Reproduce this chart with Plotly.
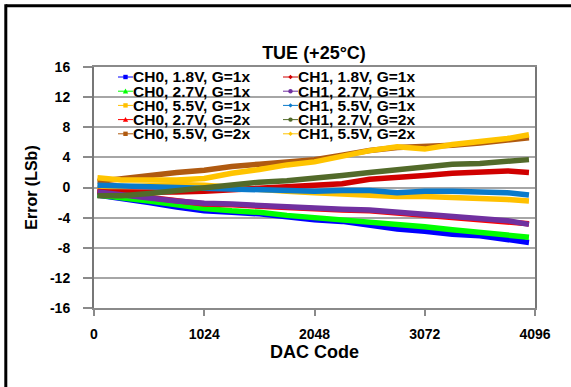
import plotly.graph_objects as go

# ---- data ----
codes = [32, 256, 512, 768, 1024, 1280, 1536, 1792, 2048, 2304, 2560, 2816, 3072, 3328, 3584, 3840, 4040]

ch0_18_g1 = [-1.0, -1.4, -2.0, -2.6, -3.1, -3.3, -3.5, -3.9, -4.3, -4.5, -5.0, -5.5, -5.8, -6.2, -6.4, -6.9, -7.3]
ch0_27_g1 = [-1.0, -1.3, -1.8, -2.3, -2.8, -3.1, -3.3, -3.7, -4.0, -4.3, -4.5, -4.9, -5.2, -5.6, -5.9, -6.2, -6.6]
ch0_55_g1 = [-0.1, 0.1, 0.3, 0.4, 0.3, 0.0, -0.3, -0.5, -0.7, -0.9, -1.1, -1.2, -1.2, -1.3, -1.5, -1.6, -1.8]
ch0_27_g2 = [-0.5, -0.9, -1.4, -1.9, -2.2, -2.3, -2.5, -2.7, -2.9, -3.0, -3.1, -3.4, -3.6, -3.9, -4.2, -4.5, -4.8]
ch0_55_g2 = [0.8, 1.2, 1.6, 2.0, 2.3, 2.8, 3.1, 3.4, 3.7, 4.3, 4.9, 5.3, 5.4, 5.6, 5.9, 6.3, 6.6]
ch1_18_g1 = [-0.6, -0.6, -0.7, -0.6, -0.5, -0.3, -0.1, 0.2, 0.3, 0.5, 1.1, 1.3, 1.6, 1.9, 2.0, 2.2, 2.0]
ch1_27_g1 = [-0.6, -0.9, -1.4, -1.8, -2.1, -2.2, -2.4, -2.6, -2.8, -2.9, -3.0, -3.3, -3.5, -3.8, -4.1, -4.4, -4.9]
ch1_55_g1 = [0.3, 0.2, 0.0, -0.1, -0.2, -0.3, -0.4, -0.4, -0.5, -0.4, -0.4, -0.7, -0.5, -0.5, -0.6, -0.7, -1.0]
ch1_27_g2 = [-1.1, -1.1, -0.8, -0.4, 0.0, 0.4, 0.7, 0.9, 1.2, 1.6, 2.0, 2.4, 2.8, 3.1, 3.2, 3.4, 3.7]
ch1_55_g2 = [1.3, 1.0, 1.0, 1.0, 1.2, 1.9, 2.4, 3.0, 3.4, 4.2, 4.9, 5.4, 5.1, 5.7, 6.1, 6.5, 7.0]

names = ["CH0, 1.8V, G=1x", "CH0, 2.7V, G=1x", "CH0, 5.5V, G=1x", "CH0, 2.7V, G=2x", "CH0, 5.5V, G=2x",
         "CH1, 1.8V, G=1x", "CH1, 2.7V, G=1x", "CH1, 5.5V, G=1x", "CH1, 2.7V, G=2x", "CH1, 5.5V, G=2x"]
series = [ch0_18_g1, ch0_27_g1, ch0_55_g1, ch0_27_g2, ch0_55_g2,
          ch1_18_g1, ch1_27_g1, ch1_55_g1, ch1_27_g2, ch1_55_g2]
colors = ["#0000FF", "#00FF00", "#FFC000", "#FF0000", "#B05A10",
          "#D00000", "#7030A0", "#0A7ACB", "#526A2A", "#FFC400"]
symbols = ["square", "triangle", "square", "triangle", "square",
           "diamond", "circle", "diamond", "circle", "diamond"]

x_ticks = [0, 1024, 2048, 3072, 4096]
y_ticks = [16, 12, 8, 4, 0, -4, -8, -12, -16]

# ---- layout geometry (pixels) ----
W, H = 571, 387
L, R, T, B = 94, 535, 67, 308


def px(x):
    return (x - L) / (R - L)


def py(y):
    return (B - y) / (B - T)


FONT = "Arial, 'Liberation Sans', sans-serif"

fig = go.Figure()
for name, vals, col in zip(names, series, colors):
    fig.add_trace(go.Scatter(x=codes, y=vals, mode="lines", name=name,
                             line=dict(color=col, width=5.5), showlegend=False))

shapes = []
annotations = []

# legend background
shapes.append(dict(type="rect", xref="paper", yref="paper",
                   x0=px(L + 1), x1=px(432), y0=py(T + 1), y1=py(143),
                   fillcolor="white", line=dict(width=0), layer="between"))

# legend entries
for i, (name, col, sym) in enumerate(zip(names, colors, symbols)):
    colm, row = divmod(i, 5)
    x0 = 118 + colm * 165
    yc = 77 + row * 14.2
    shapes.append(dict(type="line", xref="paper", yref="paper",
                       x0=px(x0), x1=px(x0 + 15), y0=py(yc), y1=py(yc),
                       line=dict(color=col, width=1), layer="above"))
    cx = x0 + 7.5
    s = 2.2
    if sym == "square":
        shapes.append(dict(type="rect", xref="paper", yref="paper",
                           x0=px(cx - s), x1=px(cx + s), y0=py(yc - s), y1=py(yc + s),
                           fillcolor=col, line=dict(width=0), layer="above"))
    elif sym == "circle":
        shapes.append(dict(type="circle", xref="paper", yref="paper",
                           x0=px(cx - s), x1=px(cx + s), y0=py(yc - s), y1=py(yc + s),
                           fillcolor=col, line=dict(width=0), layer="above"))
    elif sym == "triangle":
        path = "M {a},{b} L {c},{d} L {e},{f} Z".format(
            a=px(cx - s - 0.5), b=py(yc + s), c=px(cx + s + 0.5), d=py(yc + s),
            e=px(cx), f=py(yc - s - 0.5))
        shapes.append(dict(type="path", xref="paper", yref="paper", path=path,
                           fillcolor=col, line=dict(width=0), layer="above"))
    else:
        path = "M {a},{b} L {c},{d} L {e},{f} L {g},{h} Z".format(
            a=px(cx - s), b=py(yc), c=px(cx), d=py(yc - s),
            e=px(cx + s), f=py(yc), g=px(cx), h=py(yc + s))
        shapes.append(dict(type="path", xref="paper", yref="paper", path=path,
                           fillcolor=col, line=dict(width=0), layer="above"))
    annotations.append(dict(text=name, xref="paper", yref="paper",
                            x=px(x0 + 14), y=py(yc), xanchor="left", yanchor="middle",
                            showarrow=False, borderpad=0,
                            font=dict(family=FONT, size=15.5, color="black", weight="bold")))

# outer frame (top and left edges visible)
shapes.append(dict(type="line", xref="paper", yref="paper",
                   x0=px(5.8), x1=px(W + 5), y0=py(5.8), y1=py(5.8),
                   line=dict(color="black", width=3), layer="above"))
shapes.append(dict(type="line", xref="paper", yref="paper",
                   x0=px(5.8), x1=px(5.8), y0=py(4.3), y1=py(H + 5),
                   line=dict(color="black", width=3), layer="above"))

fig.update_layout(
    width=W, height=H,
    margin=dict(l=L, r=W - R, t=T, b=H - B, pad=0),
    paper_bgcolor="white", plot_bgcolor="white",
    showlegend=False,
    title=dict(text="TUE (+25°C)", x=px(314), xref="paper", xanchor="center",
               y=1 - 53 / H, yanchor="middle",
               font=dict(family=FONT, size=18, color="black", weight="bold")),
    xaxis=dict(range=[0, 4096], tickvals=x_ticks, ticktext=[str(v) for v in x_ticks],
               showgrid=False, zeroline=False, showline=True, linecolor="#8a8a8a",
               linewidth=1.5, mirror=True, ticks="outside", ticklen=6, tickcolor="#8a8a8a",
               tickwidth=1.5, ticklabelstandoff=6,
               tickfont=dict(family=FONT, size=14, color="black", weight="bold"),
               title=dict(text="DAC Code", standoff=4,
                          font=dict(family=FONT, size=18, color="black", weight="bold"))),
    yaxis=dict(range=[-16, 16], tickvals=y_ticks, ticktext=[str(v) for v in y_ticks],
               showgrid=True, gridcolor="#a6a6a6", gridwidth=1.5, zeroline=False,
               showline=True, linecolor="#777777", linewidth=2, mirror=True,
               ticks="outside", ticklen=9, tickcolor="#8a8a8a", tickwidth=1.5,
               ticklabelstandoff=10,
               tickfont=dict(family=FONT, size=14, color="black", weight="bold"),
               title=dict(text="Error (LSb)", standoff=8,
                          font=dict(family=FONT, size=16, color="black", weight="bold"))),
    shapes=shapes,
    annotations=annotations,
)

fig.write_html("out.html", config={"displayModeBar": False},
               post_script="document.body.style.margin='0px';")
